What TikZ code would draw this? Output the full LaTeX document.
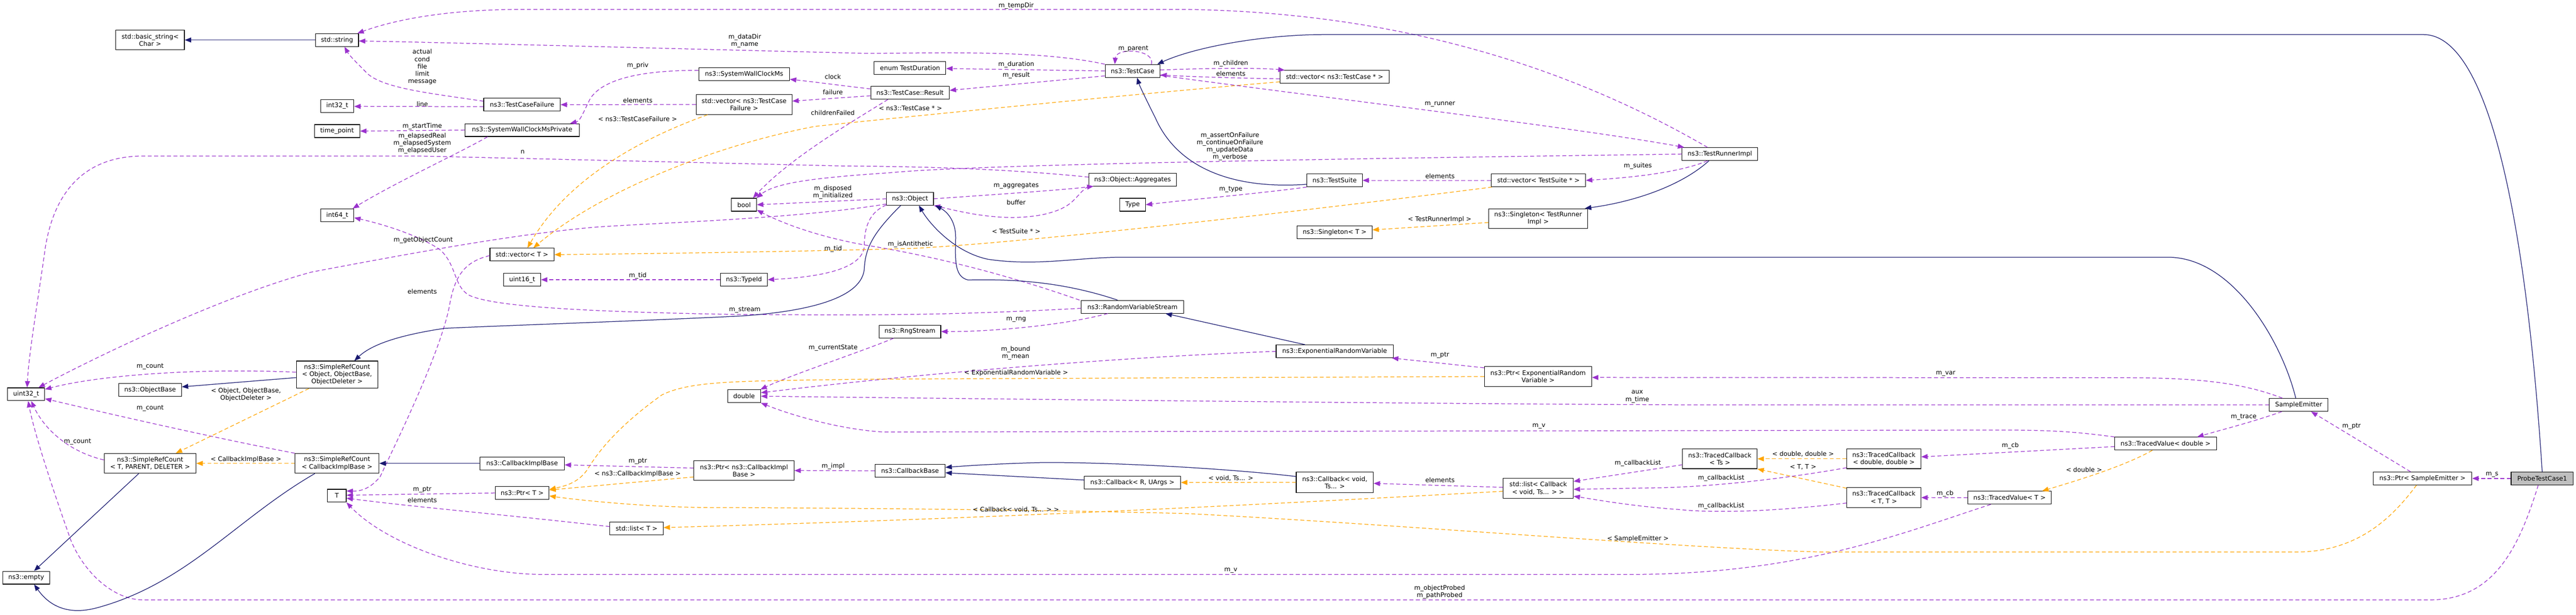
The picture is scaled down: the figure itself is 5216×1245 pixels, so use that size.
\documentclass[tikz,border=0pt]{standalone}
\usepackage{fontspec}
\setmainfont{DejaVu Sans}
\usetikzlibrary{arrows.meta}
\definecolor{navyc}{HTML}{191970}
\definecolor{purpc}{HTML}{9A32CD}
\definecolor{orc}{HTML}{FFA500}
\definecolor{grayc}{HTML}{BFBFBF}
\newcommand\nf{\fontsize{12.8}{14.8}\selectfont}
\tikzset{
  cls/.style={draw=black, line width=1.2pt, fill=white, inner sep=0pt, align=center, font=\nf},
  bx/.style n args={2}{cls, minimum width=#1pt, minimum height=#2pt},
  inh/.style={draw=navyc, line width=1.3pt, -{Triangle[length=13pt,width=10pt]}},
  mem/.style={draw=purpc, line width=1.3pt, dash pattern=on 8pt off 5pt, -{Triangle[length=13pt,width=10pt]}},
  tpl/.style={draw=orc, line width=1.3pt, dash pattern=on 8pt off 5pt, -{Triangle[length=13pt,width=10pt]}},
  lbl/.style={font=\nf, inner sep=0pt, align=center}
}
\begin{document}
\begin{tikzpicture}[x=1pt,y=-1pt]
\useasboundingbox (0,0) rectangle (5216,1245);
% ---------- nodes ----------
\node[bx={139}{40}] (basic) at (304,81) {std::basic\_string<\\Char >};
\node[bx={87}{26}] (str) at (682.5,81) {std::string};
\node[bx={67}{26}] (i32) at (683,214.5) {int32\_t};
\node[bx={92}{26}] (tp) at (682.5,265.5) {time\_point};
\node[bx={67}{26}] (i64) at (683,436) {int64\_t};
\node[bx={75}{26}] (u32) at (53,798.5) {uint32\_t};
\node[bx={127}{26}] (obase) at (304,789.5) {ns3::ObjectBase};
\node[bx={165}{55}] (srcobj) at (682.5,758.8) {ns3::SimpleRefCount\\< Object, ObjectBase,\\ObjectDeleter >};
\node[bx={186}{40}] (srct) at (304,938.5) {ns3::SimpleRefCount\\< T, PARENT, DELETER >};
\node[bx={170}{40}] (srccib) at (682.5,938.5) {ns3::SimpleRefCount\\< CallbackImplBase >};
\node[bx={38}{26}] (T) at (682,1004) {T};
\node[bx={95}{26}] (empty) at (53,1170) {ns3::empty};
\node[bx={184}{26}] (swcms) at (1506.7,150.6) {ns3::SystemWallClockMs};
\node[bx={155}{26}] (tcf) at (1057,212) {ns3::TestCaseFailure};
\node[bx={194}{40}] (vtcf) at (1506.7,211.8) {std::vector< ns3::TestCase\\Failure >};
\node[bx={231}{26}] (swcmp) at (1057.2,263.5) {ns3::SystemWallClockMsPrivate};
\node[bx={51}{26}] (bool) at (1506.5,414.7) {bool};
\node[bx={130}{26}] (vT) at (1057,515.7) {std::vector< T >};
\node[bx={75}{26}] (u16) at (1057.2,566.5) {uint16\_t};
\node[bx={95}{26}] (typeid) at (1506.4,566.5) {ns3::TypeId};
\node[bx={67}{26}] (double) at (1506.7,802.4) {double};
\node[bx={171}{26}] (cib) at (1057.2,938.5) {ns3::CallbackImplBase};
\node[bx={203}{40}] (ptrcib) at (1506.4,953) {ns3::Ptr< ns3::CallbackImpl\\Base >};
\node[bx={109}{26}] (ptrT) at (1057.2,998.4) {ns3::Ptr< T >};
\node[bx={108}{26}] (listT) at (1289,1070.5) {std::list< T >};
\node[bx={145}{26}] (dur) at (1842.7,137.3) {enum TestDuration};
\node[bx={111}{26}] (tc) at (2293.3,143.7) {ns3::TestCase};
\node[bx={159}{26}] (res) at (1842.7,188) {ns3::TestCase::Result};
\node[bx={177}{26}] (agg) at (2293.3,363.7) {ns3::Object::Aggregates};
\node[bx={95}{26}] (obj) at (1842.7,402.6) {ns3::Object};
\node[bx={52}{26}] (type) at (2293.3,414.7) {Type};
\node[bx={207}{26}] (rvs) at (2293,621.4) {ns3::RandomVariableStream};
\node[bx={125}{26}] (rng) at (1842.4,671.5) {ns3::RngStream};
\node[bx={142}{26}] (cbb) at (1842.7,953.5) {ns3::CallbackBase};
\node[bx={195}{26}] (cbr) at (2293,977.2) {ns3::Callback< R, UArgs >};
\node[bx={221}{26}] (vtc) at (2702.4,155.7) {std::vector< ns3::TestCase * >};
\node[bx={153}{26}] (tri) at (3482.4,312) {ns3::TestRunnerImpl};
\node[bx={112}{26}] (ts) at (2702.4,365.3) {ns3::TestSuite};
\node[bx={191}{26}] (vts) at (3115,365.3) {std::vector< TestSuite * >};
\node[bx={200}{40}] (sgtri) at (3114.5,442.6) {ns3::Singleton< TestRunner\\Impl >};
\node[bx={152}{26}] (sgT) at (2702.4,470.6) {ns3::Singleton< T >};
\node[bx={237}{26}] (erv) at (2702.4,711.6) {ns3::ExponentialRandomVariable};
\node[bx={217}{40}] (ptrerv) at (3114.3,762.5) {ns3::Ptr< ExponentialRandom\\Variable >};
\node[bx={156}{41}] (cbv) at (2702.7,977) {ns3::Callback< void,\\ Ts... >};
\node[bx={142}{40}] (listcb) at (3114.6,989) {std::list< Callback\\< void, Ts... > >};
\node[bx={151}{40}] (tcts) at (3482.4,929.3) {ns3::TracedCallback\\< Ts >};
\node[bx={150}{40}] (tcdd) at (3814.5,929.3) {ns3::TracedCallback\\< double, double >};
\node[bx={150}{40}] (tctt) at (3814.5,1007.8) {ns3::TracedCallback\\< T, T >};
\node[bx={169}{26}] (tvT) at (4069,1008) {ns3::TracedValue< T >};
\node[bx={206}{26}] (tvd) at (4385,898.5) {ns3::TracedValue< double >};
\node[bx={119}{26}] (se) at (4654.5,820) {SampleEmitter};
\node[bx={200}{26}] (ptrse) at (4905,969) {ns3::Ptr< SampleEmitter >};
\node[bx={126}{26}, fill=grayc] (ptc) at (5147.5,969) {ProbeTestCase1};
% ---------- edges ----------
\draw[inh] (str.west) -- (basic.east);
\draw[mem] ([xshift=-25pt]tri.north) .. controls (3150,120) and (2800,25) .. (2400,19) -- (1050,19) .. controls (900,20) and (800,40) .. ([xshift=-3pt]str.north east);
\draw[mem] (tc.north west) .. controls (2100,100) and (1900,108) .. (1750,108) .. controls (1300,97) and (900,86) .. ([yshift=-2pt]str.east);
\draw[mem] ([yshift=7pt]tcf.west) .. controls (880,190) and (780,180) .. (745,150) .. controls (725,130) and (707,112) .. ([xshift=15pt]str.south);
\draw[mem] ([yshift=-4pt]tcf.west) -- ([yshift=-1pt]i32.east);
\draw[mem] (swcmp.west) -- (tp.east);
\draw[mem] ([xshift=-70pt]swcmp.south) .. controls (930,310) and (800,370) .. ([xshift=-3pt]i64.north east);
\draw[mem] ([yshift=5pt]agg.west) .. controls (2000,338) and (1800,337) .. (1700,336) -- (850,316) -- (290,316) .. controls (170,316) and (110,390) .. (92,500) .. controls (75,620) and (58,720) .. ([xshift=2pt]u32.north);
\draw[mem] ([yshift=3pt]obj.south west) .. controls (1600,445) and (1300,452) .. (1194,461) .. controls (1050,475) and (900,500) .. (631,551) .. controls (450,600) and (200,720) .. ([xshift=25pt]u32.north);
\draw[mem] ([yshift=-3pt]rvs.west) .. controls (1900,640) and (1750,638) .. (1500,637) .. controls (1200,632) and (1000,622) .. (950,598) .. controls (918,580) and (925,535) .. (890,505) .. controls (850,478) and (780,455) .. ([yshift=-5pt]i64.east);
\draw[mem] ([yshift=-2pt]vT.west) .. controls (940,530) and (920,560) .. (910,620) .. controls (890,720) and (800,900) .. (770,965) .. controls (750,990) and (730,995) .. ([yshift=-4pt]T.north east);
\draw[mem] (ptrT.west) -- ([yshift=1pt]T.east);
\draw[mem] ([yshift=4pt]listT.west) .. controls (1000,1040) and (850,1028) .. ([yshift=-5pt]T.east);
\draw[mem] ([xshift=-38pt]tvT.south) .. controls (3850,1080) and (3650,1163) .. (3300,1163.5) -- (1100,1163.5) .. controls (950,1163) and (780,1100) .. (T.south east);
\draw[mem] ([yshift=5pt]srcobj.west) .. controls (400,745) and (200,760) .. ([yshift=10pt]u32.east);
\draw[mem] (srccib.north west) .. controls (450,890) and (250,845) .. ([yshift=-9pt]u32.east);
\draw[mem] ([yshift=7pt]srct.west) .. controls (140,915) and (90,870) .. ([xshift=10pt]u32.south);
\draw[mem] ([xshift=-8pt]ptc.south) .. controls (5100,1110) and (5050,1215) .. (4920,1215) -- (290,1215) .. controls (230,1215) and (170,1160) .. (143,1093) .. controls (110,1000) and (70,880) .. ([xshift=4pt]u32.south);
\draw[inh] ([yshift=-6pt]srcobj.west) -- ([yshift=6pt]obase.east);
\draw[tpl] ([xshift=-57pt]srcobj.south) -- ([xshift=52pt]srct.north);
\draw[tpl] (srccib.west) -- (srct.east);
\draw[inh] ([xshift=-23pt]srct.south) -- ([xshift=16pt]empty.north);
\draw[inh] ([xshift=-45pt]srccib.south) .. controls (480,1050) and (380,1180) .. (200,1230) .. controls (130,1250) and (95,1220) .. ([xshift=16pt]empty.south);
\draw[inh] (cib.west) -- (srccib.east);
\draw[inh] ([xshift=-19pt]obj.south) .. controls (1770,470) and (1752,500) .. (1750,545) .. controls (1745,600) and (1650,630) .. (1500,640) .. controls (1300,650) and (1000,660) .. (900,665) .. controls (800,680) and (750,700) .. ([xshift=35pt]srcobj.north);
\draw[mem] (obj.west) -- (bool.east);
\draw[mem] (tri.west) .. controls (3000,318) and (2000,330) .. (1800,350) .. controls (1650,360) and (1570,370) .. ([xshift=-1pt]bool.north east);
\draw[mem] ([xshift=-45pt]res.south) .. controls (1720,250) and (1600,320) .. ([xshift=-8pt]bool.north east);
\draw[mem] ([xshift=-3pt]rvs.north west) .. controls (2050,560) and (1900,520) .. (1750,496) .. controls (1650,478) and (1580,450) .. ([yshift=3pt]bool.south east);
\draw[mem] ([yshift=1pt]obj.south west) .. controls (1760,430) and (1750,460) .. (1750,500) .. controls (1745,540) and (1680,560) .. (typeid.east);
\draw[mem] (typeid.west) -- (u16.east);
\draw[mem] (obj.east) .. controls (2000,395) and (2150,385) .. ([xshift=10pt]agg.south west);
\draw[mem] (agg.south west) .. controls (2175,395) and (2180,420) .. (2110,435) .. controls (2030,450) and (1950,430) .. (obj.south east);
\draw[inh] ([xshift=-30pt]rvs.north) .. controls (2150,570) and (2050,565) .. (1960,567) .. controls (1930,560) and (1935,520) .. (1935,480) .. controls (1935,450) and (1920,430) .. ([xshift=3pt]obj.south east);
\draw[inh] ([xshift=-6pt]se.north) .. controls (4620,690) and (4520,521) .. (4390,521) -- (2274,521) .. controls (2180,521) and (2100,540) .. (2000,525) .. controls (1930,510) and (1880,450) .. ([xshift=18pt]obj.south);
\draw[inh] ([xshift=-60pt]erv.north) -- ([xshift=67pt]rvs.south);
\draw[mem] ([xshift=-50pt]rvs.south) .. controls (2150,660) and (2000,672) .. (rng.east);
\draw[mem] ([xshift=-33pt]rng.south) .. controls (1750,710) and (1600,760) .. ([xshift=-1pt]double.north east);
\draw[mem] (erv.west) .. controls (2300,722) and (1900,752) .. ([yshift=7pt]double.east);
\draw[tpl] (ptrerv.west) -- (1750,768) .. controls (1500,772) and (1400,770) .. (1340,800) .. controls (1270,850) and (1220,900) .. (1190,950) .. controls (1170,980) and (1140,985) .. ([yshift=7pt]ptrT.east);
\draw[mem] ([yshift=-3pt]ptrerv.north west) -- ([xshift=-3pt]erv.south east);
\draw[mem] ([xshift=-33pt]se.north) .. controls (4540,775) and (4450,765) .. (4300,765) -- ([yshift=-2pt]ptrerv.east);
\draw[mem] (se.west) -- (3450,820) .. controls (3000,819) and (2000,808) .. (double.east);
\draw[mem] (tvd.north west) .. controls (4200,874) and (4150,871) .. (4050,871) -- (1790,875) .. controls (1700,870) and (1600,840) .. (double.south east);
\draw[mem] ([xshift=-34pt]se.south) .. controls (4560,855) and (4500,870) .. ([xshift=64pt]tvd.north);
\draw[tpl] ([xshift=-27pt]tvd.south) .. controls (4300,945) and (4200,975) .. ([xshift=66pt]tvT.north);
\draw[mem] ([yshift=-6pt]tvd.west) -- ([yshift=4pt]tcdd.east);
\draw[mem] (tvT.west) -- (tctt.east);
\draw[tpl] (tcdd.west) -- (tcts.east);
\draw[tpl] ([yshift=19pt]tctt.west) -- (tcts.south east);
\draw[mem] ([yshift=-12pt]tcts.west) -- ([yshift=14pt]listcb.east);
\draw[mem] ([yshift=-18pt]tcdd.west) .. controls (3600,972) and (3450,987) .. (3350,988) -- ([yshift=-2pt]listcb.east);
\draw[mem] ([yshift=-11pt]tctt.west) .. controls (3600,1035) and (3480,1040) .. (3400,1032) .. controls (3300,1025) and (3220,1010) .. ([yshift=-16pt]listcb.east);
\draw[mem] ([yshift=2pt]listcb.west) -- ([yshift=-2pt]cbv.east);
\draw[tpl] ([yshift=-6pt]listcb.west) .. controls (2500,1025) and (2000,1050) .. ([yshift=2pt]listT.east);
\draw[tpl] (cbv.west) -- (cbr.east);
\draw[inh] ([yshift=12pt]cbv.west) .. controls (2450,945) and (2200,935) .. (2100,937) .. controls (2000,940) and (1950,944) .. ([yshift=7pt]cbb.east);
\draw[inh] ([yshift=5pt]cbr.west) -- ([yshift=-4pt]cbb.east);
\draw[mem] (cbb.west) -- (ptrcib.east);
\draw[mem] ([yshift=5pt]ptrcib.west) -- ([yshift=-3pt]cib.east);
\draw[tpl] ([yshift=-13pt]ptrcib.west) -- ([yshift=6pt]ptrT.east);
\draw[tpl] ([xshift=-12pt]ptrse.south) .. controls (4850,1040) and (4780,1118) .. (4650,1118) -- (3687,1118) .. controls (3400,1110) and (2800,1060) .. (2400,1040) .. controls (2000,1030) and (1500,1028) .. (1450,1028) .. controls (1300,1028) and (1150,1010) .. ([yshift=-6pt]ptrT.east);
\draw[inh] (ptc.north) .. controls (5115,450) and (5040,70) .. (4907,70) -- (2682,70) .. controls (2560,70) and (2420,95) .. ([xshift=50pt]tc.north);
\draw[mem] (ptc.west) -- (ptrse.east);
\draw[mem] ([xshift=-24pt]ptrse.north) -- ([xshift=25pt]se.south);
\draw[mem] (tc.west) -- ([yshift=-1.5pt]dur.east);
\draw[mem] ([yshift=-10pt]tc.west) -- ([yshift=5pt]res.east);
\draw[mem] ([xshift=38pt]tc.north) .. controls (2340,100) and (2260,95) .. ([xshift=-36pt]tc.north);
\draw[mem] ([yshift=2pt]tc.east) .. controls (2450,138) and (2550,137) .. ([xshift=10pt]vtc.north west);
\draw[mem] ([yshift=-4pt]vtc.west) .. controls (2500,158) and (2400,155) .. ([yshift=-8pt]tc.east);
\draw[tpl] ([yshift=-10pt]vtc.west) .. controls (2300,190) and (1800,240) .. (1650,256) .. controls (1420,300) and (1200,400) .. ([xshift=23pt]vT.north);
\draw[tpl] ([xshift=-74pt]vtcf.south) .. controls (1300,280) and (1150,360) .. ([xshift=11pt]vT.north);
\draw[tpl] ([xshift=-94pt]vts.south) .. controls (2700,420) and (2100,490) .. (1850,503) .. controls (1600,510) and (1300,514) .. (vT.east);
\draw[mem] ([yshift=8pt]res.west) .. controls (1700,173) and (1650,166) .. ([yshift=-10pt]swcms.east);
\draw[mem] ([yshift=-6pt]res.west) -- ([yshift=7pt]vtcf.east);
\draw[mem] (vtcf.west) -- (tcf.east);
\draw[mem] ([yshift=8pt]swcms.west) .. controls (1300,142) and (1220,160) .. (1195,200) .. controls (1180,230) and (1175,245) .. ([xshift=97pt]swcmp.north);
\draw[mem] ([yshift=-9pt]tc.east) .. controls (2700,200) and (3200,260) .. ([xshift=5pt]tri.north west);
\draw[mem] ([xshift=-25pt]tri.south) .. controls (3400,350) and (3300,360) .. (vts.east);
\draw[inh] ([xshift=-22pt]tri.south) .. controls (3400,380) and (3300,410) .. ([xshift=-6pt]sgtri.north east);
\draw[tpl] ([yshift=-8pt]sgtri.west) -- ([yshift=5pt]sgT.east);
\draw[mem] (vts.west) -- (ts.east);
\draw[inh] ([yshift=-8pt]ts.west) .. controls (2480,385) and (2380,330) .. (2340,240) .. controls (2320,200) and (2308,175) .. ([xshift=9pt]tc.south);
\draw[mem] (ts.south west) .. controls (2550,392) and (2400,405) .. (type.east);
% ---------- labels ----------
\node[lbl] (l1) at (2057.6,12) {m\_tempDir};
\node[lbl] (l2) at (1508,83) {m\_dataDir\\m\_name};
\node[lbl] (l3) at (855,135.5) {actual\\cond\\file\\limit\\message};
\node[lbl] (l4) at (855,210.6) {line};
\node[lbl] (l5) at (855,255.5) {m\_startTime};
\node[lbl] (l6) at (855,290) {m\_elapsedReal\\m\_elapsedSystem\\m\_elapsedUser};
\node[lbl] (l7) at (857,486.5) {m\_getObjectCount};
\node[lbl] (l8) at (855,590.6) {elements};
\node[lbl] (l9) at (304,742.7) {m\_count};
\node[lbl] (l10) at (498,799.6) {< Object, ObjectBase,\\ObjectDeleter >};
\node[lbl] (l11) at (304,826.7) {m\_count};
\node[lbl] (l12) at (157,895) {m\_count};
\node[lbl] (l13) at (498,930.3) {< CallbackImplBase >};
\node[lbl] (l14) at (855,992) {m\_ptr};
\node[lbl] (l15) at (855,1012.6) {elements};
\node[lbl] (l16) at (1291.4,132.7) {m\_priv};
\node[lbl] (l17) at (1686.4,155.5) {clock};
\node[lbl] (l18) at (1291.4,203.3) {elements};
\node[lbl] (l19) at (1686.4,186.5) {failure};
\node[lbl] (l20) at (1686.4,228.6) {childrenFailed};
\node[lbl] (l21) at (1291,240.4) {< ns3::TestCaseFailure >};
\node[lbl] (l22) at (1058.4,307.3) {n};
\node[lbl] (l23) at (1686.4,389.2) {m\_disposed\\m\_initialized};
\node[lbl] (l24) at (1687,504.5) {m\_tid};
\node[lbl] (l25) at (1291.4,558) {m\_tid};
\node[lbl] (l26) at (1508,628) {m\_stream};
\node[lbl] (l27) at (1687,705) {m\_currentState};
\node[lbl] (l28) at (1291.4,934.8) {m\_ptr};
\node[lbl] (l29) at (1291,959.5) {< ns3::CallbackImplBase >};
\node[lbl] (l30) at (1687,944.7) {m\_impl};
\node[lbl] (l31) at (2057.6,131) {m\_duration};
\node[lbl] (l32) at (2294.7,98.8) {m\_parent};
\node[lbl] (l33) at (2057.6,152.7) {m\_result};
\node[lbl] (l34) at (1843.5,219.6) {< ns3::TestCase * >};
\node[lbl] (l35) at (2492.2,129) {m\_children};
\node[lbl] (l36) at (2492.2,148.6) {elements};
\node[lbl] (l37) at (2490.5,296.7) {m\_assertOnFailure\\m\_continueOnFailure\\m\_updateData\\m\_verbose};
\node[lbl] (l38) at (2057.6,376.7) {m\_aggregates};
\node[lbl] (l39) at (2057.6,410.2) {buffer};
\node[lbl] (l40) at (2492.2,384) {m\_type};
\node[lbl] (l41) at (2057.6,468.2) {< TestSuite * >};
\node[lbl] (l42) at (1843.5,494.7) {m\_isAntithetic};
\node[lbl] (l43) at (2057.6,647.3) {m\_rng};
\node[lbl] (l44) at (2056.5,715) {m\_bound\\m\_mean};
\node[lbl] (l45) at (2057.6,755.9) {< ExponentialRandomVariable >};
\node[lbl] (l46) at (2492.2,968.2) {< void, Ts... >};
\node[lbl] (l47) at (2057,1032.3) {< Callback< void, Ts... > >};
\node[lbl] (l48) at (2492.2,1155.3) {m\_v};
\node[lbl] (l49) at (2915.7,211) {m\_runner};
\node[lbl] (l50) at (2915.7,356.3) {elements};
\node[lbl] (l51) at (3316.4,336.7) {m\_suites};
\node[lbl] (l52) at (2915,444.5) {< TestRunnerImpl >};
\node[lbl] (l53) at (2915.7,719.7) {m\_ptr};
\node[lbl] (l54) at (3315.2,803.2) {aux\\m\_time};
\node[lbl] (l55) at (3116,863.7) {m\_v};
\node[lbl] (l56) at (2915.7,972.3) {elements};
\node[lbl] (l57) at (3316.4,938.5) {m\_callbackList};
\node[lbl] (l58) at (3316.4,1091.6) {< SampleEmitter >};
\node[lbl] (l59) at (2915,1199) {m\_objectProbed\\m\_pathProbed};
\node[lbl] (l60) at (3939.6,756.7) {m\_var};
\node[lbl] (l61) at (3650.9,920) {< double, double >};
\node[lbl] (l62) at (3650.9,946.4) {< T, T >};
\node[lbl] (l63) at (3485,968.6) {m\_callbackList};
\node[lbl] (l64) at (3485,1024.5) {m\_callbackList};
\node[lbl] (l65) at (4070.5,902.8) {m\_cb};
\node[lbl] (l66) at (3938.5,999.4) {m\_cb};
\node[lbl] (l67) at (4219.8,951.3) {< double >};
\node[lbl] (l68) at (4543,844.8) {m\_trace};
\node[lbl] (l69) at (4761.4,863.7) {m\_ptr};
\node[lbl] (l70) at (5046,960.8) {m\_s};
\end{tikzpicture}
\end{document}
